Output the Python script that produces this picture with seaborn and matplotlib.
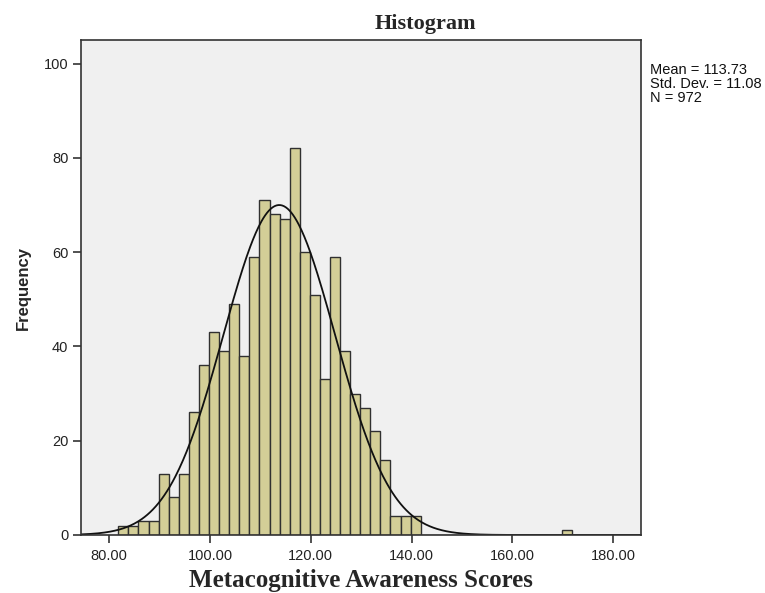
import numpy as np
import pandas as pd
import matplotlib
matplotlib.use("Agg")
import matplotlib.pyplot as plt
import seaborn as sns

# ---- data ----
bin_start = 81.8
bin_width = 2.0
counts = [2, 2, 3, 3, 13, 8, 13, 26, 36, 43, 39, 49, 38, 59, 71, 68, 67, 82,
          60, 51, 33, 59, 39, 30, 27, 22, 16, 4, 4, 4]
outlier_center = 170.8
outlier_count = 1
mean_val = 113.73
sd_val = 11.08
n_val = 972
x_ticks = [80, 100, 120, 140, 160, 180]
x_tick_labels = ["80.00", "100.00", "120.00", "140.00", "160.00", "180.00"]
y_ticks = [0, 20, 40, 60, 80, 100]

centers = [bin_start + bin_width * (i + 0.5) for i in range(len(counts))] + [outlier_center]
weights = counts + [outlier_count]
df = pd.DataFrame({"score": centers, "count": weights})
bin_end = outlier_center + bin_width / 2

sns.set_style("white")
plt.rcParams["font.family"] = ["Liberation Sans", "DejaVu Sans"]

fig = plt.figure(figsize=(7.65, 5.93), dpi=100)
ax = fig.add_axes([81 / 765, 1 - 535 / 593, (641 - 81) / 765, (535 - 40) / 593])
ax.set_facecolor("#F0F0F0")

sns.histplot(data=df, x="score", weights="count", binwidth=bin_width,
             binrange=(bin_start, bin_end), ax=ax,
             color="#D3CE97", alpha=1.0, edgecolor="#303030", linewidth=1.0)

xmin, xmax = 74.4, 185.5
xs = np.linspace(xmin, xmax, 600)
ys = n_val * bin_width * np.exp(-0.5 * ((xs - mean_val) / sd_val) ** 2) / (sd_val * np.sqrt(2 * np.pi))
sns.lineplot(x=xs, y=ys, ax=ax, color="#111111", linewidth=1.3)

ax.set_xlim(xmin, xmax)
ax.set_ylim(0, 105)
ax.set_xticks(x_ticks)
ax.set_xticklabels(x_tick_labels)
ax.set_yticks(y_ticks)
ax.tick_params(axis="both", direction="out", length=6, width=1.2, color="#333333",
               labelcolor="#222222", bottom=True, left=True)
ax.tick_params(axis="x", labelsize=10.5, pad=4)
ax.tick_params(axis="y", labelsize=10.5, pad=3)
for s in ax.spines.values():
    s.set_color("#333333")
    s.set_linewidth(1.2)

ax.set_xlabel("")
ax.set_ylabel("Frequency", fontweight="bold", fontsize=12, labelpad=9)

fig.text(361 / 765, 1 - 580 / 593, "Metacognitive Awareness Scores", family="Liberation Serif",
         fontweight="bold", fontsize=18, ha="center", va="center")
fig.text(425 / 765, 1 - 24 / 593, "Histogram", family="Liberation Serif",
         fontweight="bold", fontsize=16, ha="center", va="center")
fig.text(650 / 765, 1 - 63 / 593, "Mean = 113.73\nStd. Dev. = 11.08\nN = 972",
         fontsize=10.5, ha="left", va="top", linespacing=0.98, color="#111111")

fig.savefig("out.png", dpi=100, facecolor="white")
